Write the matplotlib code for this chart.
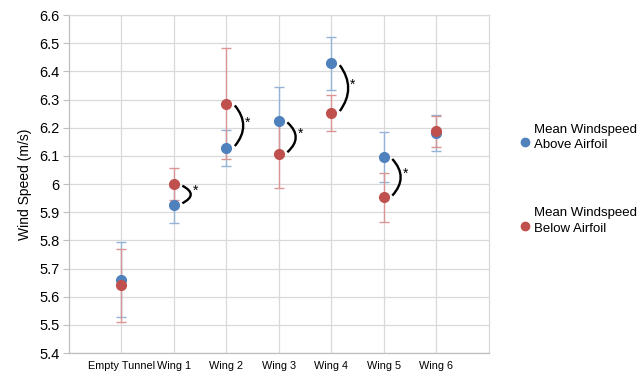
import matplotlib
matplotlib.use("Agg")
import matplotlib.pyplot as plt
from matplotlib.path import Path
from matplotlib.patches import PathPatch
from matplotlib.lines import Line2D

plt.rcParams['font.family'] = ['Liberation Sans', 'DejaVu Sans']

categories = ["Empty Tunnel", "Wing 1", "Wing 2", "Wing 3", "Wing 4", "Wing 5", "Wing 6"]
above_mean = [5.660, 5.926, 6.129, 6.225, 6.428, 6.095, 6.182]
above_err = [0.133, 0.063, 0.064, 0.118, 0.095, 0.089, 0.063]
below_mean = [5.641, 6.000, 6.285, 6.107, 6.253, 5.953, 6.188]
below_err = [0.129, 0.057, 0.197, 0.120, 0.064, 0.088, 0.055]
significant = [False, True, True, True, True, True, False]
legend_labels = ["Mean Windspeed\nAbove Airfoil", "Mean Windspeed\nBelow Airfoil"]
yticks = [5.4, 5.5, 5.6, 5.7, 5.8, 5.9, 6.0, 6.1, 6.2, 6.3, 6.4, 6.5, 6.6]
ytick_labels = ["5.4", "5.5", "5.6", "5.7", "5.8", "5.9", "6", "6.1", "6.2", "6.3", "6.4", "6.5", "6.6"]

blue = "#4F81BD"
red = "#C0504D"
blue_err = "#95B3D7"
red_err = "#DA9694"
grid_c = "#D9D9D9"

fig = plt.figure(figsize=(6.39, 3.76), dpi=100)
ax = fig.add_axes([0.108, 0.061, 0.657, 0.899])

x = list(range(len(categories)))

ax.errorbar(x, above_mean, yerr=above_err, fmt='none', ecolor=blue_err,
            elinewidth=1.0, capsize=3.5, capthick=1.0, zorder=3)
ax.errorbar(x, below_mean, yerr=below_err, fmt='none', ecolor=red_err,
            elinewidth=1.0, capsize=3.5, capthick=1.0, zorder=3)
ax.plot(x, above_mean, 'o', color=blue, markersize=7, zorder=4, linestyle='none')
ax.plot(x, below_mean, 'o', color=red, markersize=7, zorder=5, linestyle='none')

# significance brackets between the paired means
for xi, a, b, s in zip(x, above_mean, below_mean, significant):
    if not s:
        continue
    lo, hi = min(a, b) + 0.006, max(a, b) - 0.006
    mid = (lo + hi) / 2
    path = Path([(xi + 0.16, hi), (xi + 0.48, mid), (xi + 0.16, lo)],
                [Path.MOVETO, Path.CURVE3, Path.CURVE3])
    ax.add_patch(PathPatch(path, facecolor='none', edgecolor='black', lw=1.7, zorder=6))
    ax.text(xi + 0.41, mid + 0.012, "*", fontsize=10, ha='center', va='center', zorder=6)

ax.set_xlim(-1, 7)
ax.set_ylim(5.4, 6.6)
ax.set_yticks(yticks)
ax.set_yticklabels(ytick_labels, fontsize=10.5)
ax.set_xticks(x)
ax.set_xticklabels(categories, fontsize=7.8)
ax.tick_params(axis='x', length=0, pad=6)
ax.tick_params(axis='y', length=4, width=0.8, color="#BFBFBF", pad=3)
ax.grid(True, color=grid_c, linewidth=0.9, zorder=0)
ax.set_axisbelow(True)
for sp in ax.spines.values():
    sp.set_color(grid_c)
    sp.set_linewidth(0.9)
ax.spines['left'].set_color("#BFBFBF")
ax.spines['bottom'].set_color("#BFBFBF")

ax.set_ylabel("Wind Speed (m/s)", fontsize=10, labelpad=5)

# legend placed at the right of the plot area
for color, label, my, ty in [(blue, legend_labels[0], 0.622, 0.606),
                             (red, legend_labels[1], 0.399, 0.383)]:
    fig.add_artist(Line2D([0.822], [my], marker='o', color=color, markersize=6,
                          linestyle='none', transform=fig.transFigure))
    fig.text(0.835, ty, label, fontsize=9.5, ha='left', va='baseline', linespacing=1.4)

fig.savefig("out.png", dpi=100, facecolor='white')
